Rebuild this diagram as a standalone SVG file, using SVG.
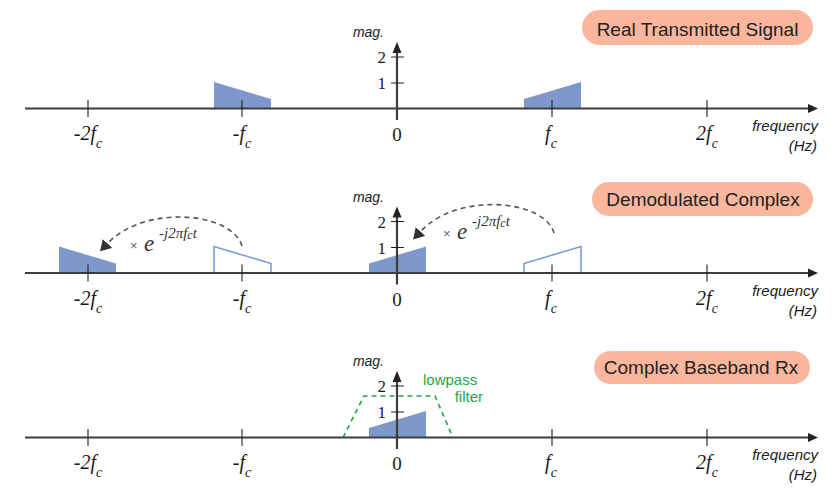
<svg xmlns="http://www.w3.org/2000/svg" width="840" height="503" viewBox="0 0 840 503">
<defs>
<style>
.ax{stroke:#3d3d3d;stroke-width:2.2;fill:none}
.tk{stroke:#222;stroke-width:1.1;fill:none}
.ah{fill:#222}
.lbl{font-family:"Liberation Serif",serif;font-style:italic;font-size:20px;fill:#1a1a1a;text-anchor:middle}
.sub{font-size:14px}
.zero{font-family:"Liberation Serif",serif;font-size:19px;fill:#1a1a1a;text-anchor:middle}
.num{font-family:"Liberation Serif",serif;font-size:17px;fill:#1a1a1a;text-anchor:end}
.mag{font-family:"Liberation Sans",sans-serif;font-style:italic;font-size:14px;fill:#1a1a1a;text-anchor:end}
.freq{font-family:"Liberation Sans",sans-serif;font-style:italic;font-size:15px;fill:#1a1a1a;text-anchor:end}
.pill{fill:#fbb69d}
.ptxt{font-family:"Liberation Sans",sans-serif;font-size:19px;fill:#222;text-anchor:middle}
.fil{fill:#7f98cc}
.out{fill:#fff;stroke:#7b9bd6;stroke-width:1.6}
.arc{fill:none;stroke:#555;stroke-width:1.6;stroke-dasharray:5 4}
.lpf{fill:none;stroke:#22a748;stroke-width:1.6;stroke-dasharray:5 4}
.green{font-family:"Liberation Sans",sans-serif;font-size:15px;fill:#22a748}
.times{font-family:"Liberation Sans",sans-serif;font-size:13px;fill:#666}
.e{font-family:"Liberation Serif",serif;font-style:italic;font-size:23px;fill:#333}
.sup{font-family:"Liberation Serif",serif;font-style:italic;font-size:15px;fill:#333}
</style>
<marker id="arr" viewBox="0 0 10 12" refX="0" refY="6" markerWidth="11" markerHeight="13" markerUnits="userSpaceOnUse" orient="auto">
<path d="M0,0 L10,6 L0,12 z" fill="#333"/>
</marker>
</defs>

<!-- spectra -->
<g id="spectra">
<polygon class="fil" points="214,108.5 214,82 271,99 271,108.5"/>
<polygon class="fil" points="524,108.5 524,99 581,82 581,108.5"/>
<polygon class="fil" points="59,273 59,246.5 116,263.5 116,273"/>
<polygon class="out" points="214,273 214,246.5 271,263.5 271,273"/>
<polygon class="fil" points="369,273 369,263.5 426,246.5 426,273"/>
<polygon class="out" points="524,273 524,263.5 581,246.5 581,273"/>
<polygon class="fil" points="369,437.5 369,428 426,411 426,437.5"/>
</g>

<g id="lowpass-filter">
<path class="lpf" d="M343,437.5 L364,396 L435,396 L453,437.5"/>
<text class="green" x="423" y="385">lowpass</text>
<text class="green" x="483" y="402" text-anchor="end">filter</text>
</g>

<!-- axes per panel -->
<g id="panel1-axes">
<path class="ax" d="M25,108.5 H809"/>
<polygon class="ah" points="808,104 818,108.5 808,113"/>
<path class="ax" d="M397,120 V51"/>
<polygon class="ah" points="392.5,53 397,42 401.5,53"/>
<path class="tk" d="M391,83 H404 M391,57 H404 M88,100 V117 M242,100 V117 M552,100 V117 M707,100 V117"/>
<text class="num" x="386" y="63">2</text>
<text class="num" x="386" y="89">1</text>
<text class="mag" x="384" y="37">mag.</text>
<text class="lbl" x="88" y="140">-2f<tspan class="sub" dy="8">c</tspan></text>
<text class="lbl" x="242" y="140">-f<tspan class="sub" dy="8">c</tspan></text>
<text class="zero" x="397" y="141">0</text>
<text class="lbl" x="551" y="140">f<tspan class="sub" dy="8">c</tspan></text>
<text class="lbl" x="707" y="140">2f<tspan class="sub" dy="8">c</tspan></text>
<text class="freq" x="818" y="131">frequency</text>
<text class="freq" x="817" y="151">(Hz)</text>
</g>

<g id="panel2-axes" transform="translate(0,164.5)">
<path class="ax" d="M25,108.5 H809"/>
<polygon class="ah" points="808,104 818,108.5 808,113"/>
<path class="ax" d="M397,120 V51"/>
<polygon class="ah" points="392.5,53 397,42 401.5,53"/>
<path class="tk" d="M391,83 H404 M391,57 H404 M88,100 V117 M242,100 V117 M552,100 V117 M707,100 V117"/>
<text class="num" x="386" y="63">2</text>
<text class="num" x="386" y="89">1</text>
<text class="mag" x="384" y="37">mag.</text>
<text class="lbl" x="88" y="140">-2f<tspan class="sub" dy="8">c</tspan></text>
<text class="lbl" x="242" y="140">-f<tspan class="sub" dy="8">c</tspan></text>
<text class="zero" x="397" y="141">0</text>
<text class="lbl" x="551" y="140">f<tspan class="sub" dy="8">c</tspan></text>
<text class="lbl" x="707" y="140">2f<tspan class="sub" dy="8">c</tspan></text>
<text class="freq" x="818" y="131">frequency</text>
<text class="freq" x="817" y="151">(Hz)</text>
</g>

<g id="panel3-axes" transform="translate(0,329)">
<path class="ax" d="M25,108.5 H809"/>
<polygon class="ah" points="808,104 818,108.5 808,113"/>
<path class="ax" d="M397,120 V51"/>
<polygon class="ah" points="392.5,53 397,42 401.5,53"/>
<path class="tk" d="M391,83 H404 M391,57 H404 M88,100 V117 M242,100 V117 M552,100 V117 M707,100 V117"/>
<text class="num" x="386" y="63">2</text>
<text class="num" x="386" y="89">1</text>
<text class="mag" x="384" y="37">mag.</text>
<text class="lbl" x="88" y="140">-2f<tspan class="sub" dy="8">c</tspan></text>
<text class="lbl" x="242" y="140">-f<tspan class="sub" dy="8">c</tspan></text>
<text class="zero" x="397" y="141">0</text>
<text class="lbl" x="551" y="140">f<tspan class="sub" dy="8">c</tspan></text>
<text class="lbl" x="707" y="140">2f<tspan class="sub" dy="8">c</tspan></text>
<text class="freq" x="818" y="131">frequency</text>
<text class="freq" x="817" y="151">(Hz)</text>
</g>

<!-- connectors -->
<g id="connectors">
<path class="arc" d="M242,246 C232,212 145,204 107.5,243.5" marker-end="url(#arr)"/>
<path class="arc" d="M554,233 C544,199 457,192 420.5,231.5" marker-end="url(#arr)"/>
</g>

<g id="shift-label-1">
<text class="times" x="130" y="250">×</text>
<text class="e" x="144" y="251">e</text>
<text class="sup" x="159" y="238">-j2πf<tspan font-size="12" dy="1">c</tspan><tspan dy="-1">t</tspan></text>
</g>
<g id="shift-label-2">
<text class="times" x="443" y="238">×</text>
<text class="e" x="457" y="239">e</text>
<text class="sup" x="472" y="226">-j2πf<tspan font-size="12" dy="1">c</tspan><tspan dy="-1">t</tspan></text>
</g>

<g id="title-real">
<rect class="pill" x="582" y="10" width="231" height="35" rx="17.5"/>
<text class="ptxt" x="697.5" y="35.5">Real Transmitted Signal</text>
</g>
<g id="title-demod">
<rect class="pill" x="592" y="182" width="221" height="34" rx="17"/>
<text class="ptxt" x="703" y="205.5">Demodulated Complex</text>
</g>
<g id="title-baseband">
<rect class="pill" x="594" y="351" width="216" height="33" rx="16.5"/>
<text class="ptxt" x="701" y="374">Complex Baseband Rx</text>
</g>
</svg>
